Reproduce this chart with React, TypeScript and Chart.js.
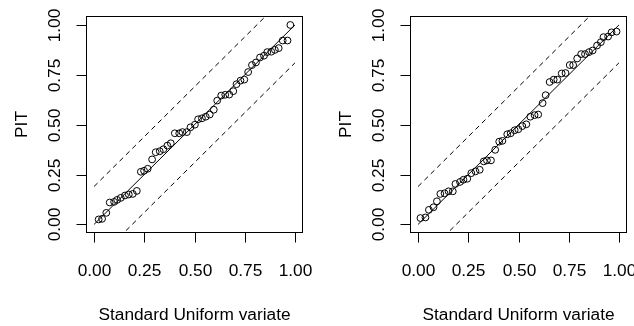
import React, { useEffect, useRef } from "react";
import { Chart, registerables } from "chart.js";

Chart.register(...registerables);

// ---- data ----
const TICK_VALUES = [0, 0.25, 0.5, 0.75, 1];
const TICK_LABELS = ["0.00", "0.25", "0.50", "0.75", "1.00"];
const X_TITLE = "Standard Uniform variate";
const Y_TITLE = "PIT";
const BAND = 0.19;

const LEFT_X = [0.023, 0.040, 0.061, 0.078, 0.100, 0.115, 0.133, 0.154, 0.173, 0.193, 0.213, 0.233, 0.249, 0.267, 0.289, 0.307, 0.327, 0.345, 0.365, 0.382, 0.402, 0.424, 0.440, 0.462, 0.480, 0.502, 0.518, 0.537, 0.556, 0.576, 0.596, 0.613, 0.633, 0.653, 0.673, 0.693, 0.709, 0.729, 0.748, 0.767, 0.786, 0.806, 0.826, 0.846, 0.862, 0.882, 0.900, 0.919, 0.939, 0.963, 0.977];
const LEFT_PIT = [0.025, 0.028, 0.058, 0.110, 0.113, 0.123, 0.133, 0.145, 0.150, 0.153, 0.168, 0.264, 0.269, 0.279, 0.326, 0.362, 0.367, 0.377, 0.395, 0.407, 0.457, 0.457, 0.463, 0.463, 0.487, 0.500, 0.527, 0.532, 0.540, 0.551, 0.575, 0.621, 0.646, 0.650, 0.651, 0.668, 0.703, 0.721, 0.726, 0.764, 0.799, 0.812, 0.837, 0.846, 0.864, 0.866, 0.875, 0.884, 0.922, 0.922, 1.000];

const RIGHT_X = [0.012, 0.037, 0.054, 0.077, 0.094, 0.111, 0.132, 0.152, 0.173, 0.186, 0.209, 0.226, 0.245, 0.265, 0.286, 0.307, 0.327, 0.343, 0.363, 0.384, 0.404, 0.420, 0.444, 0.461, 0.481, 0.499, 0.519, 0.539, 0.559, 0.580, 0.598, 0.620, 0.635, 0.655, 0.675, 0.693, 0.715, 0.734, 0.755, 0.772, 0.792, 0.812, 0.831, 0.851, 0.869, 0.891, 0.910, 0.923, 0.946, 0.963, 0.988];
const RIGHT_PIT = [0.032, 0.035, 0.073, 0.086, 0.116, 0.153, 0.156, 0.166, 0.166, 0.203, 0.213, 0.224, 0.229, 0.257, 0.266, 0.274, 0.316, 0.321, 0.321, 0.374, 0.415, 0.419, 0.452, 0.457, 0.472, 0.477, 0.493, 0.502, 0.540, 0.548, 0.551, 0.608, 0.648, 0.714, 0.726, 0.726, 0.757, 0.759, 0.799, 0.799, 0.832, 0.854, 0.854, 0.864, 0.872, 0.897, 0.914, 0.939, 0.942, 0.963, 0.967];

const X_MIN = -0.04;
const X_MAX = 1.04;
const Y_MIN = -0.043;
const Y_MAX = 1.045;

const FONT = '17.3px "Liberation Sans", Arial, sans-serif';

const rAxesPlugin = {
  id: "rAxes",
  afterDraw(chart: any) {
    const { ctx, chartArea: a, scales } = chart;
    const xs = scales.x;
    const ys = scales.y;
    const L = Math.round(a.left) + 0.5;
    const R = Math.round(a.right) - 0.5;
    const T = Math.round(a.top) + 0.5;
    const B = Math.round(a.bottom) - 0.5;
    ctx.save();
    ctx.setLineDash([]);
    ctx.strokeStyle = "#000";
    ctx.lineWidth = 1;
    ctx.strokeRect(L, T, R - L, B - T);

    ctx.fillStyle = "#000";
    ctx.font = FONT;
    ctx.textAlign = "center";
    ctx.textBaseline = "alphabetic";

    TICK_VALUES.forEach((v, i) => {
      const px = Math.round(xs.getPixelForValue(v)) + 0.5;
      ctx.beginPath();
      ctx.moveTo(px, B);
      ctx.lineTo(px, B + 10);
      ctx.stroke();
      ctx.fillText(TICK_LABELS[i], px, 276);

      const py = Math.round(ys.getPixelForValue(v)) + 0.5;
      ctx.beginPath();
      ctx.moveTo(L, py);
      ctx.lineTo(L - 10, py);
      ctx.stroke();
      ctx.save();
      ctx.translate(L - 26.8, py);
      ctx.rotate(-Math.PI / 2);
      ctx.fillText(TICK_LABELS[i], 0, 0);
      ctx.restore();
    });

    ctx.fillText(X_TITLE, (a.left + a.right) / 2, 319.5);

    ctx.save();
    ctx.translate(L - 60, (a.top + a.bottom) / 2);
    ctx.rotate(-Math.PI / 2);
    ctx.fillText(Y_TITLE, 0, 0);
    ctx.restore();

    ctx.restore();
  },
};

function makeConfig(xs: number[], ys: number[], padRight: number) {
  const pts = xs.map((x, i) => ({ x, y: ys[i] }));
  return {
    type: "scatter" as const,
    data: {
      datasets: [
        {
          data: pts,
          showLine: false,
          pointRadius: 3.4,
          pointStyle: "circle",
          borderColor: "#000",
          backgroundColor: "rgba(0,0,0,0)",
          borderWidth: 1,
        },
        {
          data: [
            { x: 0, y: 0 },
            { x: 1, y: 1 },
          ],
          showLine: true,
          pointRadius: 0,
          borderColor: "#000",
          borderWidth: 1,
        },
        {
          data: [
            { x: 0, y: BAND },
            { x: 1, y: 1 + BAND },
          ],
          showLine: true,
          pointRadius: 0,
          borderColor: "#000",
          borderWidth: 1,
          borderDash: [5, 4],
        },
        {
          data: [
            { x: 0, y: -BAND },
            { x: 1, y: 1 - BAND },
          ],
          showLine: true,
          pointRadius: 0,
          borderColor: "#000",
          borderWidth: 1,
          borderDash: [5, 4],
        },
      ],
    },
    options: {
      animation: false,
      responsive: false,
      devicePixelRatio: 1,
      layout: { padding: { left: 86, top: 16, right: padRight, bottom: 93 } },
      plugins: { legend: { display: false }, tooltip: { enabled: false } },
      scales: {
        x: { type: "linear", min: X_MIN, max: X_MAX, display: false },
        y: { type: "linear", min: Y_MIN, max: Y_MAX, display: false },
      },
    },
    plugins: [rAxesPlugin],
  };
}

function Panel({ xs, ys, left, width }: { xs: number[]; ys: number[]; left: number; width: number }) {
  const ref = useRef<HTMLCanvasElement | null>(null);
  useEffect(() => {
    if (!ref.current) return;
    const chart = new Chart(ref.current, makeConfig(xs, ys, width - 303) as any);
    return () => chart.destroy();
  }, [xs, ys, width]);
  return (
    <canvas
      ref={ref}
      width={width}
      height={326}
      style={{ position: "absolute", left, top: 0, width, height: 326, display: "block" }}
    />
  );
}

export default function App() {
  return (
    <div
      style={{
        position: "fixed",
        left: 0,
        top: 0,
        width: 634,
        height: 326,
        background: "#fff",
        overflow: "hidden",
      }}
    >
      <Panel xs={LEFT_X} ys={LEFT_PIT} left={0} width={320} />
      <Panel xs={RIGHT_X} ys={RIGHT_PIT} left={324} width={310} />
    </div>
  );
}
